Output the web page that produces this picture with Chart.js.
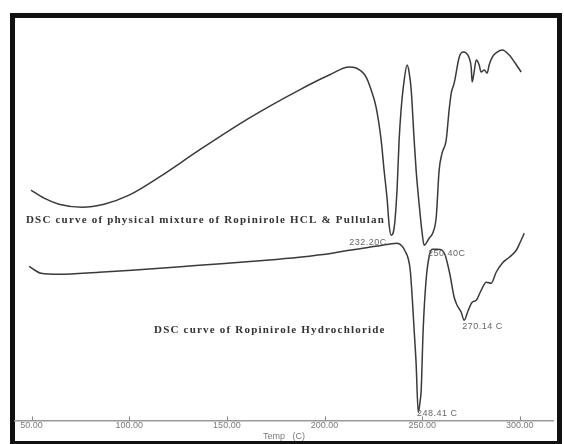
<!DOCTYPE html>
<html>
<head>
<meta charset="utf-8">
<script src="https://cdn.jsdelivr.net/npm/chart.js@4.4.1/dist/chart.umd.min.js"></script>
<style>
  html, body { margin: 0; padding: 0; background: #fff; }
  body { width: 564px; height: 444px; position: relative; overflow: hidden; }
  #frame {
    position: absolute; left: 10px; top: 13px; width: 552px; height: 431px;
    border: 5px solid #111; border-bottom-width: 3px; box-sizing: border-box;
  }
  #dsc { position: absolute; left: 0; top: 0; }
</style>
</head>
<body>
<div id="frame"></div>
<canvas id="dsc" width="564" height="444"></canvas>
<script>
// temperature axis ticks (C)
var tickValues = [50, 100, 150, 200, 250, 300];

// DSC curve of physical mixture of Ropinirole HCL & Pullulan (upper)
var mixTemp = [49.7, 56.4, 64.0, 75.8, 87.1, 99.9, 115.3, 135.8, 161.4, 187.0, 202.4, 212.6, 216.2,
    221.3, 223.9, 226.4, 229.0, 230.5, 232.1, 233.1, 234.1, 235.7, 237.2, 238.2, 239.2, 240.8, 242.3,
    243.3, 244.4, 245.9, 246.9, 248.5, 250.0, 251.0, 253.6, 255.6, 257.2, 258.7, 260.2, 262.3, 263.8,
    264.9, 266.4, 269.0, 271.0, 272.5, 274.1, 275.1, 275.6, 276.6, 277.7, 279.2, 280.2, 281.8, 283.3,
    284.3, 285.9, 288.4, 291.0, 294.6, 297.6, 300.7];
var mixHeat = [230, 222, 216, 213, 216, 225, 243, 270, 302, 330, 345, 353, 352,
    343, 330, 313, 280, 250, 220, 195, 185, 193, 233, 280, 310, 340, 355,
    348, 330, 280, 250, 215, 187, 175, 182, 188, 203, 250, 267, 280, 310,
    327, 337, 363, 368, 367, 362, 353, 338, 348, 360, 355, 348, 350, 347,
    355, 363, 368, 370, 365, 357, 348];

// DSC curve of Ropinirole Hydrochloride (lower)
var hclTemp = [48.7, 51.7, 54.8, 64.0, 84.5, 101.4, 135.8, 170.1, 187.0, 203.9, 212.6, 222.8, 233.1,
    237.2, 239.8, 241.3, 242.8, 243.9, 244.9, 245.9, 246.9, 248.0, 249.0, 249.5, 250.5, 252.0, 253.6,
    255.1, 257.7, 260.2, 261.8, 262.8, 264.3, 266.4, 267.9, 270.0, 271.5, 273.6, 275.6, 277.7, 280.2,
    282.8, 285.3, 287.9, 291.0, 294.6, 298.2, 300.2, 302.3];
var hclHeat = [154, 150, 147, 146, 148, 150, 155, 160, 163, 167, 170, 173, 176,
    177, 174, 169, 162, 150, 123, 90, 57, 8, 20, 30, 90, 140, 164,
    171, 171, 170, 165, 158, 145, 123, 115, 108, 100, 110, 118, 120, 130,
    138, 137, 148, 157, 163, 170, 178, 187];

// text written on the plot and its anchor (temp, heat)
var noteText = ['DSC curve of physical mixture of Ropinirole HCL & Pullulan',
    'DSC curve of Ropinirole Hydrochloride', '232.20C', '250.40C', '270.14 C', '248.41 C'];
var noteTemp = [47.1, 112.7, 212.6, 253.0, 270.5, 247.4];
var noteHeat = [200, 90, 178, 167, 94, 7];

function pairs(xs, ys) {
    return xs.map(function (x, i) { return { x: x, y: ys[i] }; });
}

var notesPlugin = {
    id: 'notes',
    afterDatasetsDraw: function (chart) {
        var ctx = chart.ctx;
        var xs = chart.scales.x, ys = chart.scales.y;
        ctx.save();
        // small upward tick marks on the temperature axis
        ctx.strokeStyle = '#888';
        ctx.lineWidth = 1;
        tickValues.forEach(function (t) {
            var px = Math.round(xs.getPixelForValue(t)) + 0.5;
            ctx.beginPath();
            ctx.moveTo(px, chart.chartArea.bottom - 4);
            ctx.lineTo(px, chart.chartArea.bottom);
            ctx.stroke();
        });
        ctx.textBaseline = 'middle';
        ctx.textAlign = 'left';
        noteText.forEach(function (txt, i) {
            if (i < 2) {
                ctx.font = 'bold 11px "Liberation Serif"';
                ctx.letterSpacing = '1.2px';
                ctx.fillStyle = '#333';
            } else {
                ctx.font = '9px "Liberation Sans"';
                ctx.letterSpacing = '0.5px';
                ctx.fillStyle = '#666';
            }
            ctx.fillText(txt, xs.getPixelForValue(noteTemp[i]), ys.getPixelForValue(noteHeat[i]));
        });
        ctx.letterSpacing = '0px';
        ctx.restore();
    }
};

new Chart(document.getElementById('dsc').getContext('2d'), {
    type: 'line',
    data: {
        datasets: [{
            label: 'Ropinirole HCL & Pullulan',
            data: pairs(mixTemp, mixHeat),
            borderColor: '#3a3a3a',
            borderWidth: 1.5,
            pointRadius: 0,
            cubicInterpolationMode: 'monotone',
            fill: false
        }, {
            label: 'Ropinirole Hydrochloride',
            data: pairs(hclTemp, hclHeat),
            borderColor: '#3a3a3a',
            borderWidth: 1.5,
            pointRadius: 0,
            cubicInterpolationMode: 'monotone',
            fill: false
        }]
    },
    options: {
        responsive: false,
        animation: false,
        devicePixelRatio: 1,
        layout: { padding: { left: 15, right: 11, top: 20, bottom: 2 } },
        plugins: {
            legend: { display: false },
            tooltip: { enabled: false }
        },
        scales: {
            x: {
                type: 'linear',
                min: 41.5,
                max: 317,
                afterBuildTicks: function (axis) {
                    axis.ticks = tickValues.map(function (v) { return { value: v }; });
                },
                ticks: {
                    autoSkip: false,
                    maxRotation: 0,
                    padding: 0,
                    color: '#7a7a7a',
                    font: { family: '"Liberation Sans"', size: 9 },
                    callback: function (v) { return v.toFixed(2); }
                },
                grid: { drawOnChartArea: false, drawTicks: false },
                border: { display: true, color: '#999', width: 1.5 },
                title: {
                    display: true,
                    text: 'Temp   (C)',
                    color: '#7a7a7a',
                    font: { family: '"Liberation Sans"', size: 9 },
                    padding: { top: 0, bottom: 0 }
                }
            },
            y: {
                type: 'linear',
                display: false,
                min: 0,
                max: 400
            }
        }
    },
    plugins: [notesPlugin]
});
</script>
</body>
</html>
